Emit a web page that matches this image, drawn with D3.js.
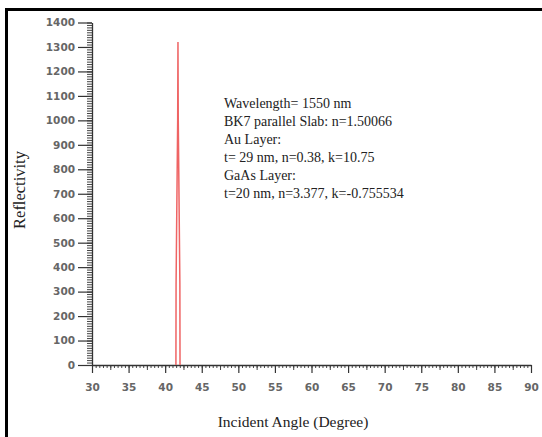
<!DOCTYPE html>
<html><head><meta charset="utf-8">
<script src="https://cdn.jsdelivr.net/npm/d3@7"></script>
<style>body{margin:0;background:#fff}svg{display:block}</style>
</head><body><svg id="c" width="542" height="437"></svg>
<script>
const angles = [41.47, 41.49, 41.71, 41.75, 41.79, 42.01, 42.03];
const reflectivity = [0, 330, 1000, 1320, 1000, 330, 0];
const xTicks = [30,35,40,45,50,55,60,65,70,75,80,85,90];
const yTicks = [0,100,200,300,400,500,600,700,800,900,1000,1100,1200,1300,1400];
const notes = ["Wavelength= 1550 nm","BK7 parallel Slab: n=1.50066","Au Layer:","t= 29 nm, n=0.38, k=10.75","GaAs Layer:","t=20 nm, n=3.377, k=-0.755534"];

const svg = d3.select("#c");
const x = d3.scaleLinear().domain([30,90]).range([92,531]);
const y = d3.scaleLinear().domain([0,1400]).range([365,22.5]);

// frame
svg.append("line").attr("x1",6.5).attr("x2",6.5).attr("y1",8).attr("y2",437).attr("stroke","#000").attr("stroke-width",3);
svg.append("line").attr("x1",5).attr("x2",542).attr("y1",9.5).attr("y2",9.5).attr("stroke","#000").attr("stroke-width",3);

const tickFont = g => g.selectAll("text").attr("font-family","DejaVu Sans, Verdana, sans-serif").attr("font-size",10.5).attr("fill","#666").attr("font-weight","bold");

// y minor
const gyMin = svg.append("g").attr("transform","translate(92,0)")
  .call(d3.axisLeft(y).tickValues(d3.range(0,1401,10)).tickSize(5).tickFormat(""));
gyMin.select(".domain").remove();
gyMin.selectAll("line").attr("stroke","#444");
const gy = svg.append("g").attr("transform","translate(92,0)")
  .call(d3.axisLeft(y).tickValues(yTicks).tickSize(14).tickSizeOuter(0).tickPadding(3).tickFormat(d3.format("d")));
gy.select(".domain").attr("stroke","#333").attr("stroke-width",1.3);
gy.selectAll("line").attr("stroke","#333").attr("stroke-width",1.2);
gy.call(tickFont);

// x minor
const gxMin = svg.append("g").attr("transform","translate(0,365)")
  .call(d3.axisBottom(x).tickValues(d3.range(30,90.01,0.5)).tickSize(3).tickFormat(""));
gxMin.select(".domain").remove();
gxMin.selectAll("line").attr("stroke","#444");
const gxMid = svg.append("g").attr("transform","translate(0,365)")
  .call(d3.axisBottom(x).tickValues(d3.range(32.5,90,5)).tickSize(5).tickFormat(""));
gxMid.select(".domain").remove();
gxMid.selectAll("line").attr("stroke","#444");
const gx = svg.append("g").attr("transform","translate(0,365)")
  .call(d3.axisBottom(x).tickValues(xTicks).tickSize(8).tickSizeOuter(0).tickPadding(11).tickFormat(d3.format("d")));
gx.select(".domain").attr("stroke","#333").attr("stroke-width",1.3);
gx.selectAll("line").attr("stroke","#333").attr("stroke-width",1.2);
gx.call(tickFont);

// data line
const data = angles.map((a,i)=>[a,reflectivity[i]]);
svg.append("path").datum(data)
  .attr("d", d3.line().x(d=>x(d[0])).y(d=>y(d[1])))
  .attr("fill","none").attr("stroke","#ef6464").attr("stroke-width",1.5);

// labels
svg.append("text").attr("x",293).attr("y",427).attr("text-anchor","middle")
  .attr("font-family","Liberation Serif, serif").attr("font-size",15.5).attr("fill","#222")
  .text("Incident Angle (Degree)");
svg.append("text").attr("transform","translate(25,190) rotate(-90)").attr("text-anchor","middle")
  .attr("font-family","Liberation Serif, serif").attr("font-size",16.5).attr("fill","#222")
  .text("Reflectivity");

svg.append("g").selectAll("text").data(notes).join("text")
  .attr("x",224).attr("y",(d,i)=>108+i*18)
  .attr("font-family","Liberation Serif, serif").attr("font-size",14).attr("fill","#222")
  .text(d=>d);
</script></body></html>
